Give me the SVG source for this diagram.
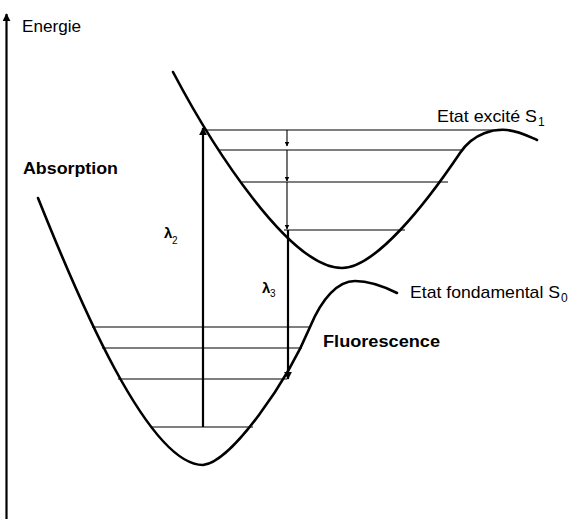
<svg xmlns="http://www.w3.org/2000/svg" width="573" height="519" viewBox="0 0 573 519">
<style>
.curve{fill:none;stroke:#000;stroke-width:2.6;stroke-linecap:round;stroke-linejoin:round}
.lvl{fill:none;stroke:#000;stroke-width:1.1}
.arr{fill:none;stroke:#000;stroke-width:2.2}
.thin{fill:none;stroke:#000;stroke-width:1.1}
text{font-family:"Liberation Sans",Arial,sans-serif;fill:#000}
.b{font-weight:bold}
</style>
<defs>
<marker id="ah" viewBox="0 0 10 10" refX="9" refY="5" markerWidth="8" markerHeight="8" markerUnits="userSpaceOnUse" orient="auto">
<path d="M0,0 L10,5 L0,10 z" fill="#000"/>
</marker>
<marker id="ahs" viewBox="0 0 10 10" refX="9" refY="5" markerWidth="5" markerHeight="5" markerUnits="userSpaceOnUse" orient="auto">
<path d="M0,0 L10,5 L0,10 z" fill="#000"/>
</marker>
</defs>
<rect width="573" height="519" fill="#fff"/>

<g id="axis">
<line x1="6.5" y1="519" x2="6.5" y2="14" class="arr" marker-end="url(#ah)"/>
<text x="22" y="32" font-size="17" textLength="59" lengthAdjust="spacingAndGlyphs">Energie</text>
</g>

<g id="S0">
<path class="curve" d="M38,198 C78,298 148,465 203,465 C232,462 288,380 310,327 C322,298 338,281 355,281 C370,281 385,287 397,293"/>
<line class="lvl" x1="92" y1="327" x2="310" y2="327"/>
<line class="lvl" x1="102" y1="348" x2="302" y2="348"/>
<line class="lvl" x1="118" y1="379" x2="287" y2="379"/>
<line class="lvl" x1="152" y1="427" x2="253" y2="427"/>
<text x="410" y="298" font-size="17" textLength="150" lengthAdjust="spacingAndGlyphs">Etat fondamental S</text>
<text x="561" y="302" font-size="12">0</text>
</g>

<g id="S1">
<path class="curve" d="M173,72 C213,148 290,268 342,268 C375,268 425,205 460,153 C474,132 495,129 507,130 C519,131 530,137 537,140"/>
<line class="lvl" x1="204" y1="130" x2="507" y2="130"/>
<line class="lvl" x1="218" y1="150" x2="463" y2="150"/>
<line class="lvl" x1="242" y1="182" x2="448" y2="182"/>
<line class="lvl" x1="284" y1="230" x2="405" y2="230"/>
<text x="437" y="122" font-size="17" textLength="100" lengthAdjust="spacingAndGlyphs">Etat excité S</text>
<text x="538" y="126" font-size="12">1</text>
</g>

<g id="connectors">
<line class="arr" x1="203" y1="427" x2="203" y2="128" marker-end="url(#ah)"/>
<line class="arr" x1="288" y1="230" x2="288" y2="379" marker-end="url(#ah)"/>
<line class="thin" x1="287" y1="130" x2="287" y2="146" marker-end="url(#ahs)"/>
<line class="thin" x1="287" y1="150" x2="287" y2="181" marker-end="url(#ahs)"/>
<line class="thin" x1="287" y1="182" x2="287" y2="229" marker-end="url(#ahs)"/>
</g>

<g id="labels">
<text class="b" x="23" y="174" font-size="16" textLength="95" lengthAdjust="spacingAndGlyphs">Absorption</text>
<text class="b" x="323" y="347" font-size="16" textLength="117" lengthAdjust="spacingAndGlyphs">Fluorescence</text>
<text class="b" x="164" y="238" font-size="15">λ</text>
<text x="172" y="244" font-size="10">2</text>
<text class="b" x="262" y="293" font-size="15">λ</text>
<text x="270" y="297" font-size="10">3</text>
</g>
</svg>
